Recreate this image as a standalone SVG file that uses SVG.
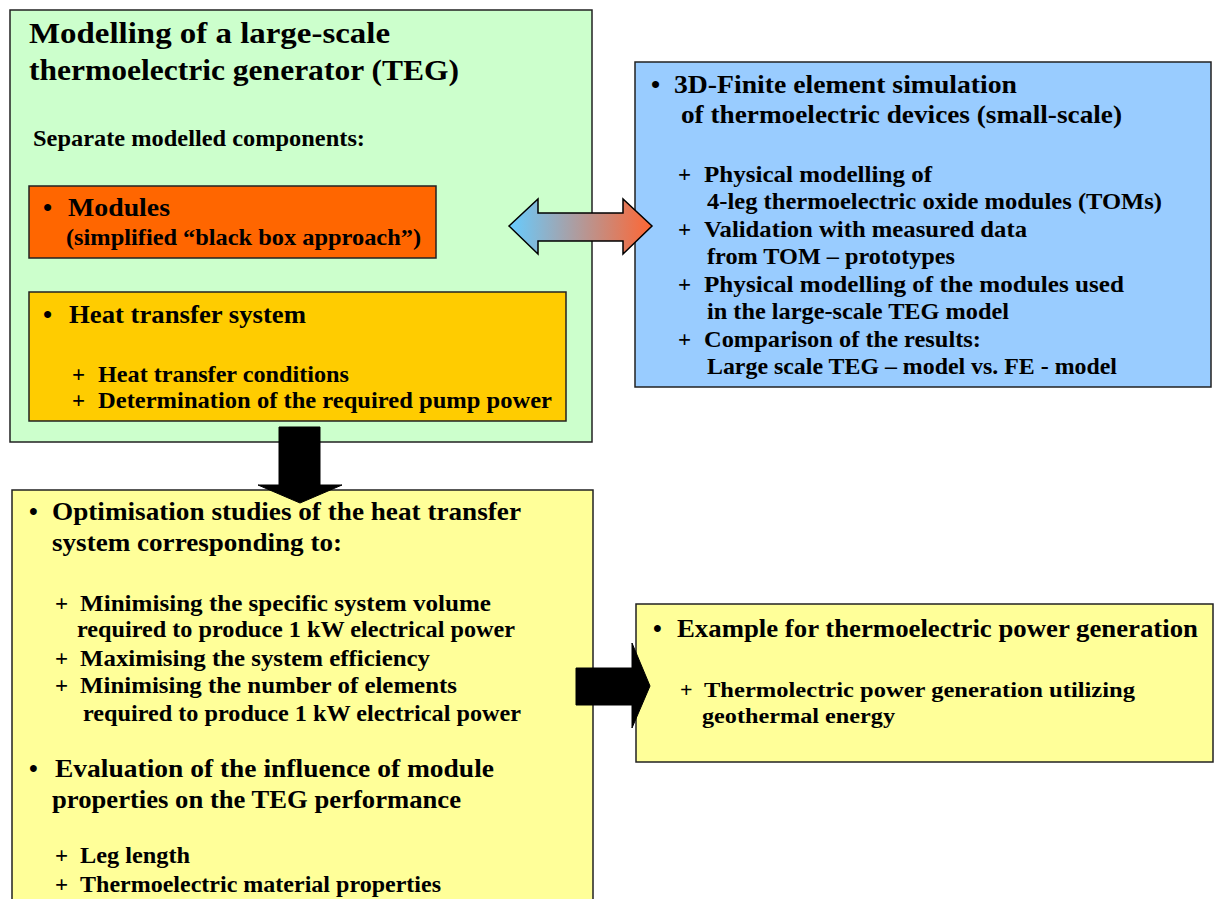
<svg xmlns="http://www.w3.org/2000/svg" width="1215" height="899" viewBox="0 0 1215 899">
<defs>
<style>
text{font-family:"Liberation Serif","Times New Roman",serif;font-weight:bold;fill:#000}
.t{font-size:29px}
.m{font-size:26px}
.m2{font-size:25px}
.s{font-size:23px}
.s2{font-size:22px}
.box{stroke:#222;stroke-width:1.5}
.arr{fill:#000;stroke:#000;stroke-width:1}
</style>
<linearGradient id="grad" x1="509" y1="0" x2="652" y2="0" gradientUnits="userSpaceOnUse">
<stop offset="0" stop-color="#66CCFF"/>
<stop offset="1" stop-color="#FF6633"/>
</linearGradient>
</defs>
<rect width="1215" height="899" fill="#fff"/>

<g id="teg-model">
<rect class="box" x="10" y="10" width="582" height="432" fill="#CCFFCC"/>
<text class="t" x="29" y="43" textLength="361" lengthAdjust="spacingAndGlyphs">Modelling of a large-scale</text>
<text class="t" x="29" y="80" textLength="430" lengthAdjust="spacingAndGlyphs">thermoelectric generator (TEG)</text>
<text class="s" x="33" y="146" textLength="332" lengthAdjust="spacingAndGlyphs">Separate modelled components:</text>
</g>

<g id="modules">
<rect class="box" x="29" y="186" width="407" height="72" fill="#FF6600"/>
<text class="m" x="43" y="216">•</text>
<text class="m" x="68" y="216" textLength="102" lengthAdjust="spacingAndGlyphs">Modules</text>
<text class="s" x="66" y="245" textLength="355" lengthAdjust="spacingAndGlyphs">(simplified “black box approach”)</text>
</g>

<g id="heat-transfer">
<rect class="box" x="29" y="292" width="537" height="129" fill="#FFCC00"/>
<text class="m" x="43" y="323">•</text>
<text class="m" x="69" y="323" textLength="237" lengthAdjust="spacingAndGlyphs">Heat transfer system</text>
<text class="s" x="72" y="382">+</text>
<text class="s" x="98" y="382" textLength="251" lengthAdjust="spacingAndGlyphs">Heat transfer conditions</text>
<text class="s" x="72" y="408">+</text>
<text class="s" x="98" y="408" textLength="454" lengthAdjust="spacingAndGlyphs">Determination of the required pump power</text>
</g>

<g id="fe-simulation">
<rect class="box" x="635" y="62" width="576" height="325" fill="#99CCFF"/>
<text class="m" x="651" y="93">•</text>
<text class="m" x="674" y="93" textLength="343" lengthAdjust="spacingAndGlyphs">3D-Finite element simulation</text>
<text class="m" x="681" y="123" textLength="441" lengthAdjust="spacingAndGlyphs">of thermoelectric devices (small-scale)</text>
<text class="s" x="678" y="182">+</text>
<text class="s" x="704" y="182" textLength="228" lengthAdjust="spacingAndGlyphs">Physical modelling of</text>
<text class="s" x="707" y="209" textLength="455" lengthAdjust="spacingAndGlyphs">4-leg thermoelectric oxide modules (TOMs)</text>
<text class="s" x="678" y="237">+</text>
<text class="s" x="704" y="237" textLength="323" lengthAdjust="spacingAndGlyphs">Validation with measured data</text>
<text class="s" x="707" y="264" textLength="248" lengthAdjust="spacingAndGlyphs">from TOM – prototypes</text>
<text class="s" x="678" y="292">+</text>
<text class="s" x="704" y="292" textLength="420" lengthAdjust="spacingAndGlyphs">Physical modelling of the modules used</text>
<text class="s" x="707" y="319" textLength="302" lengthAdjust="spacingAndGlyphs">in the large-scale TEG model</text>
<text class="s" x="678" y="347">+</text>
<text class="s" x="704" y="347" textLength="277" lengthAdjust="spacingAndGlyphs">Comparison of the results:</text>
<text class="s" x="707" y="374" textLength="410" lengthAdjust="spacingAndGlyphs">Large scale TEG – model vs. FE - model</text>
</g>

<g id="optimisation">
<rect class="box" x="12" y="490" width="581" height="420" fill="#FFFF99"/>
<text class="m2" x="29" y="520">•</text>
<text class="m2" x="52" y="520" textLength="469" lengthAdjust="spacingAndGlyphs">Optimisation studies of the heat transfer</text>
<text class="m2" x="52" y="551" textLength="290" lengthAdjust="spacingAndGlyphs">system corresponding to:</text>
<text class="s" x="55" y="611">+</text>
<text class="s" x="80" y="611" textLength="411" lengthAdjust="spacingAndGlyphs">Minimising the specific system volume</text>
<text class="s" x="77" y="637" textLength="438" lengthAdjust="spacingAndGlyphs">required to produce 1 kW electrical power</text>
<text class="s" x="55" y="666">+</text>
<text class="s" x="80" y="666" textLength="350" lengthAdjust="spacingAndGlyphs">Maximising the system efficiency</text>
<text class="s" x="55" y="693">+</text>
<text class="s" x="80" y="693" textLength="377" lengthAdjust="spacingAndGlyphs">Minimising the number of elements</text>
<text class="s" x="83" y="721" textLength="438" lengthAdjust="spacingAndGlyphs">required to produce 1 kW electrical power</text>
<text class="m2" x="29" y="777">•</text>
<text class="m2" x="55" y="777" textLength="439" lengthAdjust="spacingAndGlyphs">Evaluation of the influence of module</text>
<text class="m2" x="52" y="808" textLength="409" lengthAdjust="spacingAndGlyphs">properties on the TEG performance</text>
<text class="s" x="55" y="863">+</text>
<text class="s" x="80" y="863" textLength="110" lengthAdjust="spacingAndGlyphs">Leg length</text>
<text class="s" x="55" y="892">+</text>
<text class="s" x="80" y="892" textLength="361" lengthAdjust="spacingAndGlyphs">Thermoelectric material properties</text>
</g>

<g id="example">
<rect class="box" x="636" y="604" width="577" height="158" fill="#FFFF99"/>
<text class="m2" x="653" y="637">•</text>
<text class="m2" x="677" y="637" textLength="521" lengthAdjust="spacingAndGlyphs">Example for thermoelectric power generation</text>
<text class="s2" x="680" y="697">+</text>
<text class="s2" x="704" y="697" textLength="431" lengthAdjust="spacingAndGlyphs">Thermolectric power generation utilizing</text>
<text class="s2" x="702" y="723" textLength="193" lengthAdjust="spacingAndGlyphs">geothermal energy</text>
</g>

<g id="connectors">
<path d="M509,226 L538,199 L538,213 L623,213 L623,199 L652,226 L623,254 L623,241 L538,241 L538,254 Z" fill="url(#grad)" stroke="#000" stroke-width="1.5" stroke-linejoin="miter"/>
<path class="arr" d="M279,427 L320,427 L320,485 L342,485 L300,503 L258,485 L279,485 Z"/>
<path class="arr" d="M576,668 L632,668 L632,643 L650,686 L632,728 L632,705 L576,705 Z"/>
</g>
</svg>
